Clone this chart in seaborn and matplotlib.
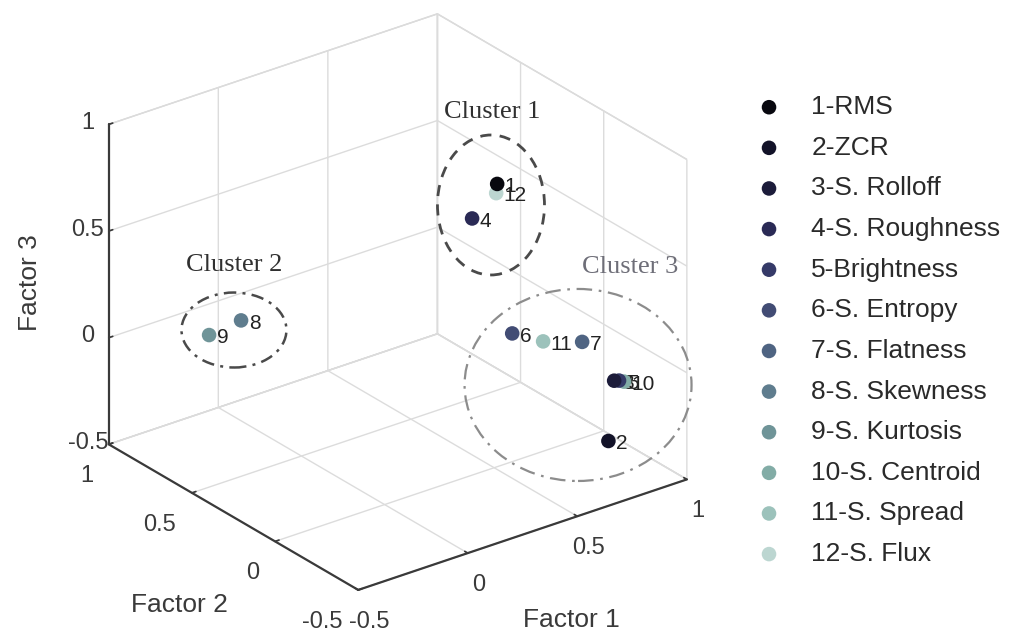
import matplotlib
matplotlib.use("Agg")
import matplotlib.pyplot as plt
from matplotlib.patches import Ellipse
from matplotlib.ticker import FixedLocator, FuncFormatter
from mpl_toolkits.mplot3d import proj3d
import numpy as np
import pandas as pd
import seaborn as sns

# Factor loadings of the twelve audio features
feature_ids = [1, 2, 3, 4, 5, 6, 7, 8, 9, 10, 11, 12]
feature_names = ["RMS", "ZCR", "S. Rolloff", "S. Roughness", "Brightness",
                 "S. Entropy", "S. Flatness", "S. Skewness", "S. Kurtosis",
                 "S. Centroid", "S. Spread", "S. Flux"]
factor1 = [0.45, 0.90, 0.93, 0.35, 0.95, 0.70, 0.85, -0.01, -0.08, 0.97, 0.75, 0.45]
factor2 = [-0.084, -0.16, -0.155, -0.065, -0.158, 0.155, -0.068, 0.85, 0.95, -0.162, 0.035, -0.078]
factor3 = [0.886, -0.44, -0.17, 0.75, -0.175, -0.01, 0.0, -0.02, -0.11, -0.185, -0.01, 0.84]

axis_ticks = [-0.5, 0, 0.5, 1]
cluster_names = ["Cluster 1", "Cluster 2", "Cluster 3"]

df = pd.DataFrame({"id": feature_ids, "name": feature_names,
                   "f1": factor1, "f2": factor2, "f3": factor3})
df["legend"] = [f"{i}-{n}" for i, n in zip(df["id"], df["name"])]

sns.set_theme(style="white")
plt.rcParams["font.family"] = ["Liberation Sans", "DejaVu Sans"]
plt.rcParams["axes.unicode_minus"] = False

palette = ["#08080f", "#121228", "#1c1c3a", "#2a2a55", "#353a68", "#424c74",
           "#4f6482", "#5f7d8e", "#6f9498", "#82aca6", "#9cc2bb", "#bcd6d1"]

fig = plt.figure(figsize=(10.28, 6.36), dpi=100)
ax = fig.add_axes([0.0553, -0.0108, 0.6459, 1.044], projection="3d")
ax.set_proj_type("ortho")
ax.view_init(elev=26.3, azim=-127.2)
ax.set_box_aspect((1, 1, 0.865))

ax.set_xlim(-0.5, 1)
ax.set_ylim(-0.5, 1)
ax.set_zlim(-0.5, 1)

fmt = FuncFormatter(lambda v, _: f"{v:g}")
for axis in (ax.xaxis, ax.yaxis, ax.zaxis):
    axis.set_major_locator(FixedLocator(axis_ticks))
    axis.set_major_formatter(fmt)
    axis.set_pane_color((1, 1, 1, 1))
    axis.pane.set_edgecolor("#d6d6d6")
    axis.line.set_color("#3a3a3a")
    axis.line.set_linewidth(1.6)
    axis._axinfo["grid"].update(color="#dcdcdc", linewidth=1.0)
    axis._axinfo["tick"].update(inward_factor=0.0, outward_factor=0.15)
    axis._axinfo["tick"]["color"] = "#3a3a3a"
ax.tick_params(axis="x", labelsize=17, colors="#3a3a3a", pad=3)
ax.tick_params(axis="y", labelsize=17, colors="#3a3a3a", pad=4)
ax.tick_params(axis="z", labelsize=17, colors="#3a3a3a", pad=1)
ax.grid(True)

# Factor 2 labels hang to the left of their ticks, Factor 3 labels sit level with theirs
for t in ax.yaxis.get_ticklabels():
    t.set_horizontalalignment("right")
for t in ax.zaxis.get_ticklabels():
    t.set_verticalalignment("center")

for k, row in df.iterrows():
    ax.scatter(row["f1"], row["f2"], row["f3"], s=110, color=palette[k],
               depthshade=False, edgecolors="none", label=row["legend"])

# Number tags beside each point, placed at the projected 2D position
proj = ax.get_proj()
for k, row in df.iterrows():
    px, py, _ = proj3d.proj_transform(row["f1"], row["f2"], row["f3"], proj)
    ax.annotate(str(row["id"]), xy=(px, py), xycoords="data", xytext=(5.5, -2),
                textcoords="offset points", fontsize=15, color="#222222",
                ha="left", va="center")

# Axis titles
fig.text(0.556, 0.025, "Factor 1", fontsize=19, color="#3a3a3a", ha="center", va="center")
fig.text(0.175, 0.049, "Factor 2", fontsize=19, color="#3a3a3a", ha="center", va="center")
fig.text(0.029, 0.555, "Factor 3", fontsize=19, color="#3a3a3a", ha="center", va="center", rotation=90)

# Cluster outlines and captions
ellipses = [
    dict(xy=(0.4776, 0.6777), w=0.1041, h=0.2201, ls=(0, (4, 3)), c="#4a4a4a", lw=2.0),
    dict(xy=(0.2276, 0.4811), w=0.1021, h=0.1179, ls=(0, (5, 2.5, 1.2, 2.5)), c="#4a4a4a", lw=1.8),
    dict(xy=(0.5623, 0.3947), w=0.2208, h=0.3019, ls=(0, (7, 3, 1.2, 3)), c="#8c8c8c", lw=1.6),
]
for e in ellipses:
    fig.add_artist(Ellipse(e["xy"], e["w"], e["h"], transform=fig.transFigure,
                           fill=False, edgecolor=e["c"], linestyle=e["ls"], linewidth=e["lw"]))

serif = ["Liberation Serif", "DejaVu Serif"]
fig.text(0.4786, 0.824, cluster_names[0], fontsize=19, family=serif, color="#303030", ha="center", va="center")
fig.text(0.2276, 0.583, cluster_names[1], fontsize=19, family=serif, color="#303030", ha="center", va="center")
fig.text(0.6125, 0.580, cluster_names[2], fontsize=19, family=serif, color="#6e6e78", ha="center", va="center")

leg = ax.legend(loc="upper left", bbox_to_anchor=(0.7224, 0.867), bbox_transform=fig.transFigure,
                frameon=False, fontsize=19, markerscale=1.0, handletextpad=1.0,
                labelspacing=0.63, borderaxespad=0, handlelength=1.2)
for t in leg.get_texts():
    t.set_color("#2a2a2a")

fig.savefig("out.png", dpi=100, facecolor="white")
